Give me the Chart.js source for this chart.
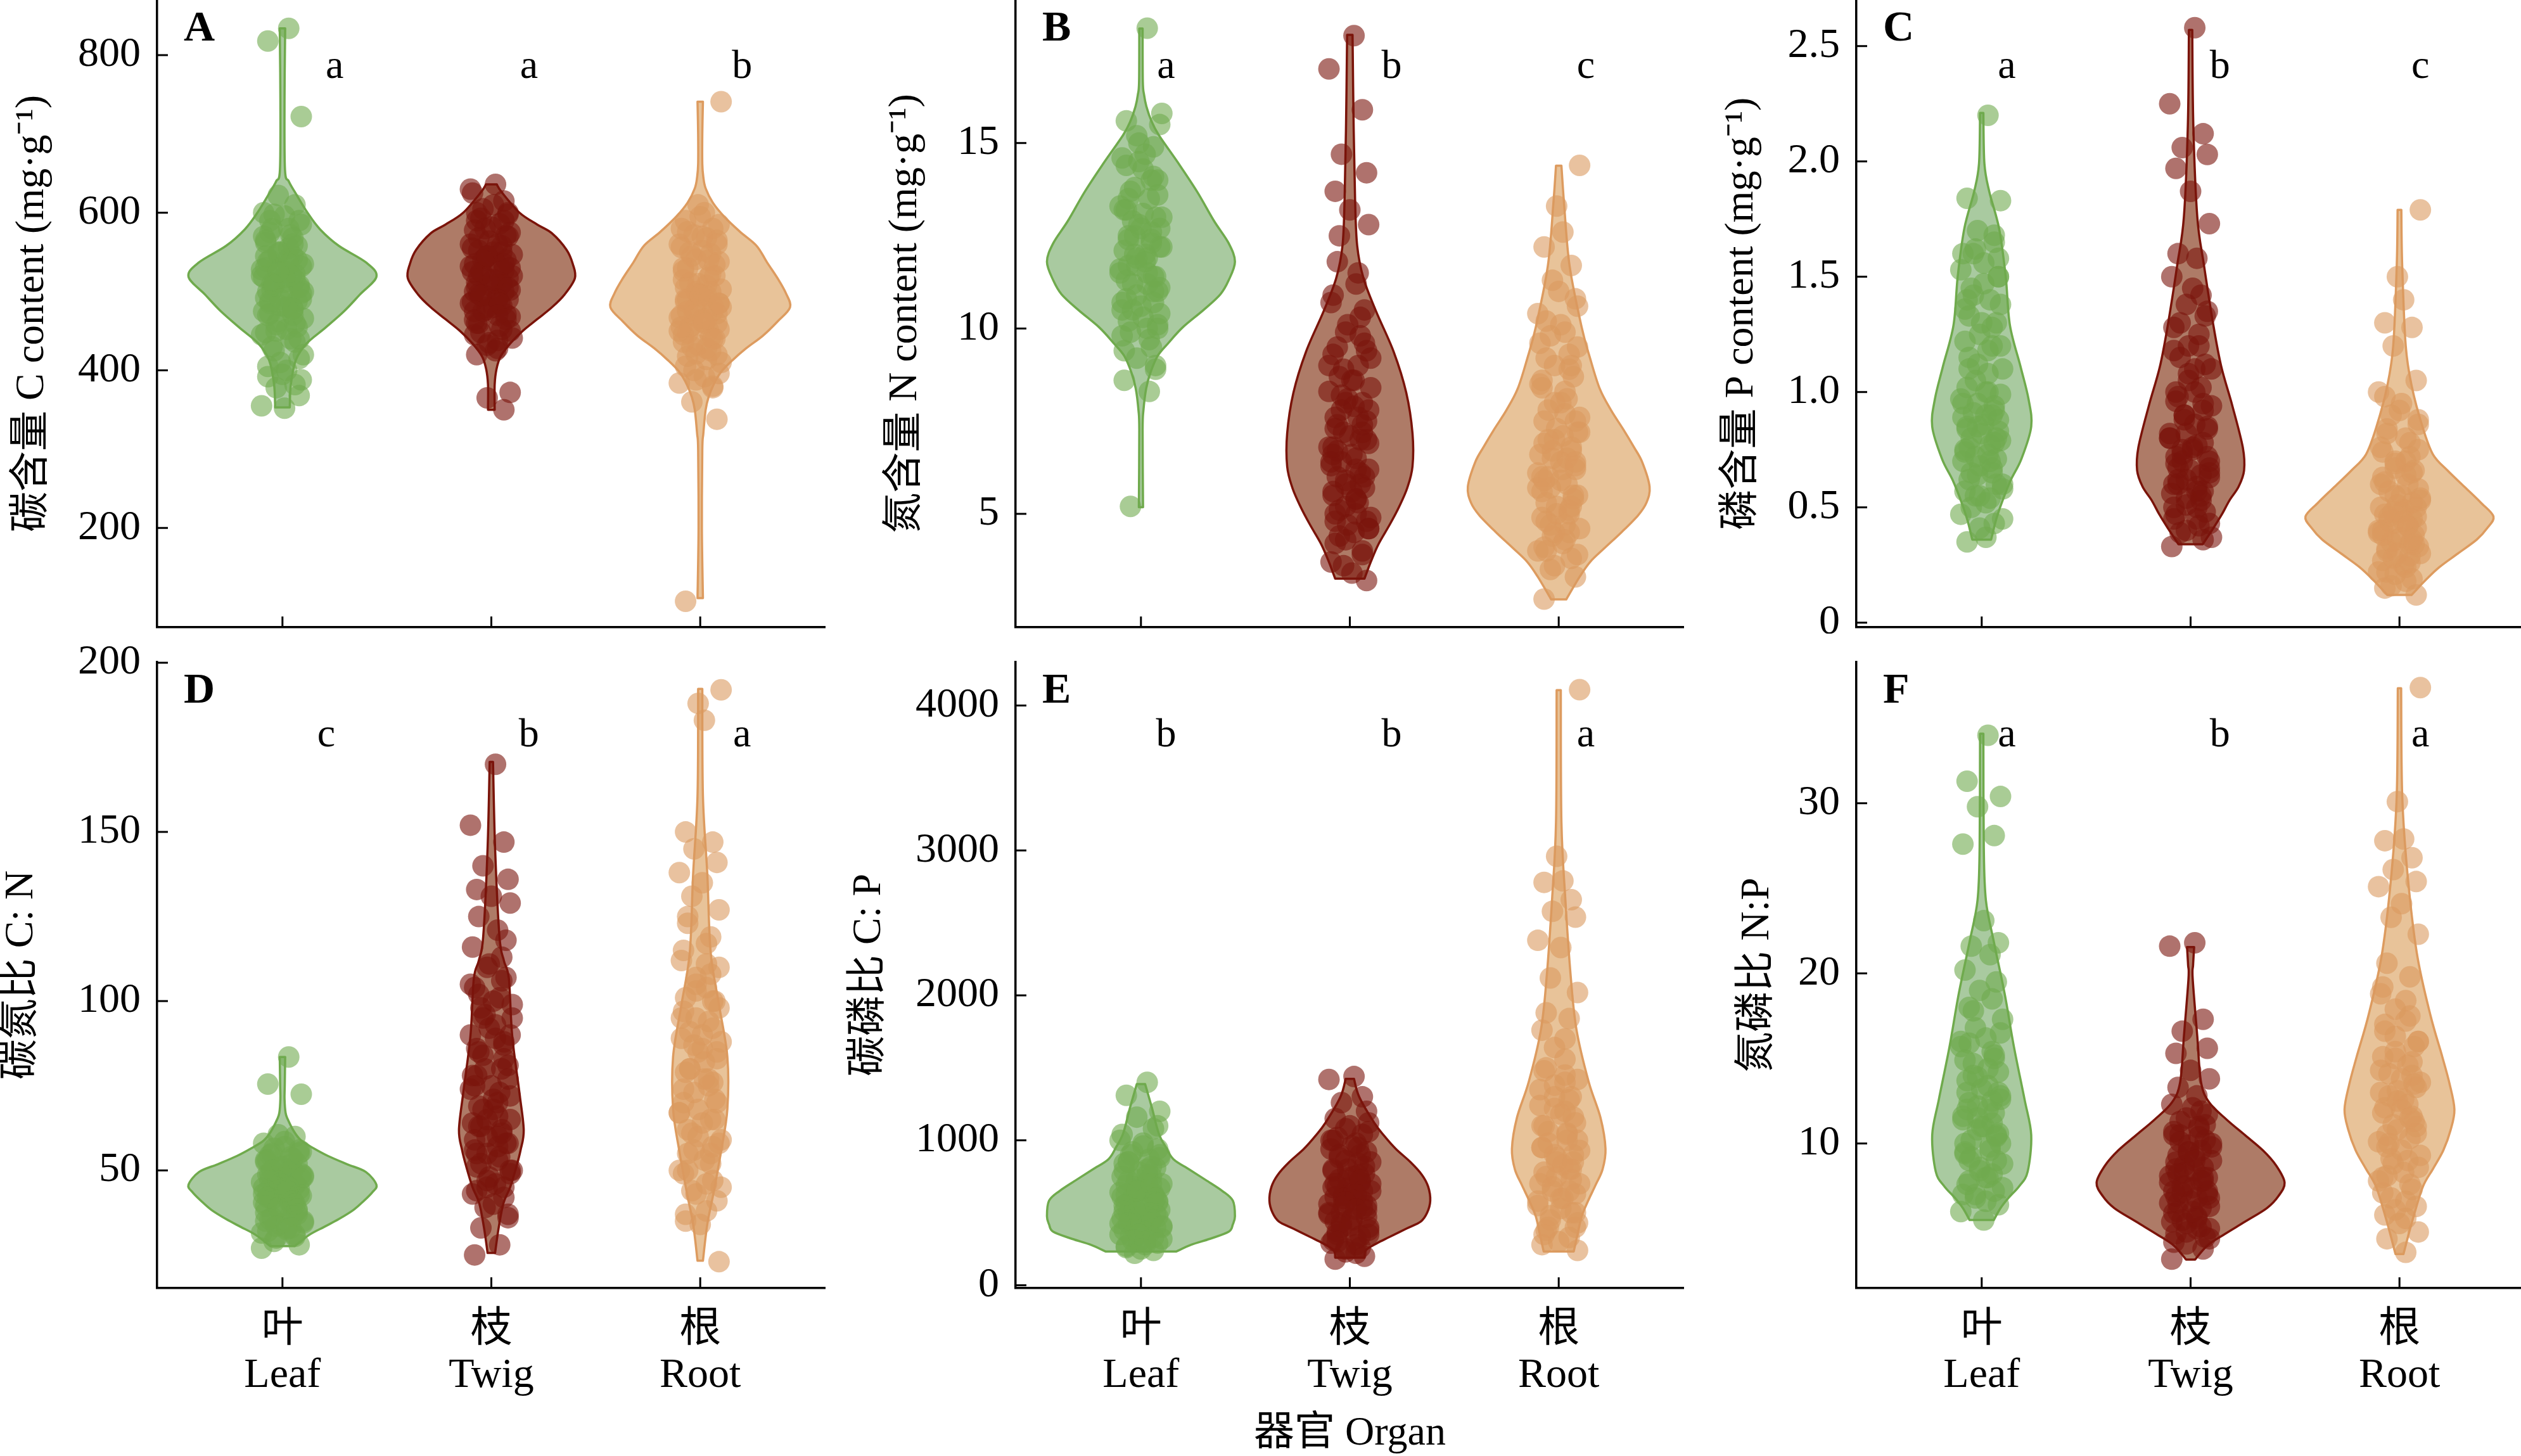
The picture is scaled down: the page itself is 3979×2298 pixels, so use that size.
<!DOCTYPE html>
<html>
<head>
<meta charset="utf-8">
<title>Organ stoichiometry violins</title>
<script src="https://cdn.jsdelivr.net/npm/chart.js@4.4.1/dist/chart.umd.min.js"></script>
<style>
  html, body { margin: 0; padding: 0; background: #ffffff; overflow: hidden; }
  body { position: relative; width: 3979px; height: 2298px; }
  canvas { position: absolute; }
</style>
</head>
<body>
<script>
// ---- data ----
const ORGANS_ZH = ['叶', '枝', '根'];
const ORGANS_EN = ['Leaf', 'Twig', 'Root'];
const CAT_POS = [1, 2, 3];

// hand-typed jitter offsets (category units)
const JITTER = [0.03, -0.07, 0.09, -0.02, 0.06, -0.09, 0.01, 0.08, -0.05, 0.04,
  -0.08, 0.07, -0.01, 0.05, -0.06, 0.10, -0.03, 0.02, -0.10, 0.06,
  -0.04, 0.08, -0.07, 0.00, 0.09, -0.06, 0.03, -0.09, 0.05, -0.02,
  0.07, -0.08, 0.04, -0.05, 0.10, -0.01, 0.02, -0.07, 0.06, -0.03,
  0.08, -0.10, 0.01, -0.04, 0.09, -0.06, 0.05, -0.08, 0.03, -0.02];

// A: carbon content
const A_RANGE = [74, 870];
const A_TICKS = [200, 400, 600, 800];
const A_TICK_LABELS = ['200', '400', '600', '800'];
const A_SIG = ['a', 'a', 'b'];
const A_LEAF = [834, 818, 722, 622, 610, 600, 596, 590, 580, 572, 565, 558, 550, 545, 540, 535, 530, 525, 520, 515, 510, 505, 500, 495, 490, 485, 480, 475, 470, 462, 455, 448, 440, 430, 420, 410, 400, 392, 382, 378, 368, 355, 352,
  598, 585, 575, 568, 562, 555, 548, 542, 538, 532, 528, 522, 518, 512, 508, 502, 498, 492, 488, 482, 478, 472, 466, 458, 452, 445, 436, 425, 415, 405, 395, 388,
  590, 580, 570, 560, 550, 540, 530, 520, 510, 500, 490, 480, 470, 460, 450, 440, 528, 518, 508, 498, 488, 478, 545, 535, 525];
const A_TWIG = [636, 630, 615, 605, 598, 590, 582, 575, 568, 560, 555, 550, 545, 540, 535, 530, 525, 520, 515, 510, 505, 500, 495, 490, 485, 480, 475, 468, 460, 452, 445, 438, 432, 428, 420, 372, 365, 350,
  625, 610, 600, 593, 586, 578, 571, 564, 558, 552, 547, 542, 537, 532, 527, 522, 517, 512, 507, 502, 497, 492, 487, 482, 477, 471, 464, 456, 448, 441, 435, 425,
  600, 590, 580, 570, 560, 550, 540, 530, 520, 510, 500, 490, 480, 470, 460, 450, 545, 535, 525, 515, 505, 495, 485, 475, 465];
const A_ROOT = [741, 610, 600, 590, 580, 572, 565, 560, 552, 545, 538, 530, 522, 515, 508, 500, 495, 490, 485, 480, 475, 470, 465, 460, 455, 450, 445, 440, 432, 425, 418, 410, 400, 392, 384, 378, 360, 338, 107,
  595, 585, 576, 568, 556, 548, 541, 534, 526, 518, 511, 503, 497, 492, 487, 482, 477, 472, 467, 462, 457, 452, 447, 442, 436, 428, 421, 414, 405, 396, 388, 380,
  580, 570, 560, 550, 540, 530, 520, 510, 500, 490, 480, 470, 460, 450, 440, 430, 420, 505, 495, 485, 475, 465, 455];
const A_LEAF_VIOLIN = [[834, 0.013], [745, 0.01], [655, 0.012], [640, 0.03], [626, 0.06], [600, 0.12], [579, 0.18], [558, 0.27], [537, 0.40], [519, 0.45], [496, 0.37], [475, 0.295], [454, 0.205], [434, 0.115], [413, 0.064], [382, 0.04], [353, 0.035]];
const A_TWIG_VIOLIN = [[636, 0.026], [626, 0.05], [600, 0.135], [585, 0.22], [574, 0.29], [553, 0.36], [535, 0.39], [517, 0.40], [496, 0.35], [480, 0.29], [465, 0.22], [450, 0.15], [434, 0.09], [418, 0.045], [402, 0.025], [382, 0.016], [350, 0.016]];
const A_ROOT_VIOLIN = [[741, 0.013], [700, 0.01], [662, 0.01], [645, 0.015], [631, 0.026], [613, 0.06], [595, 0.115], [576, 0.19], [558, 0.27], [537, 0.32], [517, 0.37], [498, 0.41], [480, 0.43], [462, 0.37], [444, 0.30], [428, 0.22], [413, 0.155], [398, 0.10], [382, 0.064], [366, 0.04], [350, 0.026], [320, 0.015], [299, 0.01], [200, 0.008], [111, 0.013]];

// B: nitrogen content
const B_RANGE = [1.94, 18.86];
const B_TICKS = [5, 10, 15];
const B_TICK_LABELS = ['5', '10', '15'];
const B_SIG = ['a', 'b', 'c'];
const B_LEAF = [18.1, 15.6, 15.5, 15.2, 14.9, 14.6, 14.3, 14.0, 13.7, 13.5, 13.2, 13.0, 12.8, 12.6, 12.4, 12.2, 12.0, 11.8, 11.6, 11.4, 11.2, 11.0, 10.8, 10.6, 10.4, 10.2, 10.0, 9.8, 9.5, 9.2, 8.9, 8.6, 8.3, 5.2,
  15.8, 15.0, 14.7, 14.4, 14.1, 13.8, 13.6, 13.3, 13.1, 12.9, 12.7, 12.5, 12.3, 12.1, 11.9, 11.7, 11.5, 11.3, 11.1, 10.9, 10.7, 10.5, 10.3, 10.1, 9.9, 9.7, 9.4, 9.0,
  14.5, 14.0, 13.5, 13.0, 12.5, 12.0, 11.5, 11.0, 10.5, 10.0, 13.2, 12.7, 12.2, 11.7, 11.2, 10.7, 12.4, 11.9, 11.4];
const B_TWIG = [17.9, 17.0, 15.9, 14.7, 14.2, 13.7, 13.2, 12.8, 11.8, 11.2, 10.7, 10.3, 9.9, 9.6, 9.3, 9.0, 8.7, 8.4, 8.1, 7.9, 7.6, 7.4, 7.2, 7.0, 6.8, 6.6, 6.4, 6.2, 6.0, 5.8, 5.6, 5.4, 5.2, 5.0, 4.8, 4.6, 4.3, 4.0, 3.7, 3.4, 3.2,
  12.5, 11.5, 10.9, 10.5, 10.1, 9.8, 9.5, 9.2, 8.9, 8.6, 8.3, 8.0, 7.8, 7.5, 7.3, 7.1, 6.9, 6.7, 6.5, 6.3, 6.1, 5.9, 5.7, 5.5, 5.3, 5.1, 4.9, 4.7, 4.5, 4.2, 3.9, 3.6,
  9.4, 9.0, 8.6, 8.2, 7.8, 7.4, 7.0, 6.6, 6.2, 5.8, 5.4, 5.0, 4.6, 8.0, 7.2, 6.4, 5.6, 4.8, 4.4, 7.6, 6.8, 6.0];
const B_ROOT = [14.4, 13.3, 12.6, 12.2, 11.7, 11.3, 10.8, 10.4, 10.1, 9.8, 9.5, 9.2, 8.9, 8.6, 8.3, 8.0, 7.7, 7.5, 7.2, 7.0, 6.8, 6.6, 6.4, 6.2, 6.0, 5.8, 5.6, 5.4, 5.2, 5.0, 4.8, 4.6, 4.4, 4.2, 4.0, 3.8, 3.5, 3.3, 2.7,
  11.0, 10.6, 10.2, 9.9, 9.6, 9.3, 9.0, 8.7, 8.4, 8.1, 7.8, 7.6, 7.3, 7.1, 6.9, 6.7, 6.5, 6.3, 6.1, 5.9, 5.7, 5.5, 5.3, 5.1, 4.9, 4.7, 4.5, 4.3, 4.1, 3.9, 3.6,
  9.0, 8.5, 8.0, 7.5, 7.0, 6.5, 6.0, 5.5, 5.0, 4.5, 4.0, 7.2, 6.7, 6.2, 5.7, 5.2, 4.7, 6.4, 5.9];
const B_LEAF_VIOLIN = [[18.09, 0.008], [16.66, 0.009], [16.3, 0.015], [15.99, 0.026], [15.6, 0.05], [15.22, 0.085], [14.45, 0.18], [13.68, 0.27], [12.9, 0.35], [12.3, 0.42], [11.8, 0.45], [11.3, 0.42], [10.92, 0.38], [10.5, 0.30], [10.03, 0.20], [9.6, 0.13], [9.26, 0.08], [8.8, 0.045], [8.38, 0.025], [7.8, 0.012], [7.27, 0.008], [5.18, 0.01]];
const B_TWIG_VIOLIN = [[17.92, 0.013], [15.55, 0.018], [13.5, 0.025], [12.24, 0.035], [11.36, 0.065], [10.47, 0.125], [9.37, 0.21], [8.27, 0.27], [7.17, 0.30], [6.28, 0.30], [5.7, 0.275], [5.18, 0.235], [4.7, 0.19], [4.18, 0.137], [3.7, 0.10], [3.25, 0.07]];
const B_ROOT_VIOLIN = [[14.39, 0.013], [13.34, 0.026], [11.69, 0.052], [10.03, 0.11], [9.2, 0.15], [8.38, 0.196], [7.8, 0.25], [7.27, 0.31], [6.8, 0.36], [6.39, 0.40], [5.73, 0.435], [5.3, 0.42], [4.96, 0.38], [4.5, 0.30], [4.08, 0.22], [3.7, 0.15], [3.3, 0.10], [2.69, 0.036]];

// C: phosphorus content
const C_RANGE = [-0.02, 2.70];
const C_TICKS = [0, 0.5, 1.0, 1.5, 2.0, 2.5];
const C_TICK_LABELS = ['0', '0.5', '1.0', '1.5', '2.0', '2.5'];
const C_SIG = ['a', 'b', 'c'];
const C_LEAF = [2.2, 1.84, 1.83, 1.7, 1.65, 1.6, 1.56, 1.5, 1.45, 1.4, 1.36, 1.3, 1.25, 1.2, 1.15, 1.1, 1.05, 1.0, 0.97, 0.94, 0.91, 0.88, 0.85, 0.82, 0.79, 0.76, 0.73, 0.7, 0.67, 0.64, 0.6, 0.57, 0.54, 0.5, 0.45, 0.41, 0.37, 0.35,
  1.68, 1.62, 1.58, 1.53, 1.47, 1.42, 1.38, 1.33, 1.28, 1.22, 1.18, 1.12, 1.08, 1.02, 0.99, 0.95, 0.92, 0.89, 0.86, 0.83, 0.8, 0.77, 0.74, 0.71, 0.68, 0.65, 0.62, 0.58, 0.55, 0.52, 0.47, 0.43,
  1.6, 1.5, 1.4, 1.3, 1.2, 1.1, 1.0, 0.95, 0.9, 0.85, 0.8, 0.75, 0.7, 0.65, 0.6, 0.55, 0.9, 0.84, 0.78, 0.72];
const C_TWIG = [2.58, 2.25, 2.12, 2.06, 2.03, 1.97, 1.87, 1.73, 1.6, 1.58, 1.5, 1.42, 1.38, 1.33, 1.28, 1.2, 1.15, 1.1, 1.05, 1.0, 0.96, 0.92, 0.88, 0.84, 0.8, 0.76, 0.73, 0.7, 0.67, 0.64, 0.6, 0.57, 0.54, 0.5, 0.47, 0.43, 0.4, 0.36, 0.33,
  1.45, 1.35, 1.3, 1.25, 1.18, 1.12, 1.08, 1.02, 0.98, 0.94, 0.9, 0.86, 0.82, 0.78, 0.75, 0.72, 0.69, 0.66, 0.63, 0.62, 0.59, 0.56, 0.53, 0.51, 0.48, 0.45, 0.42, 0.39, 0.37,
  1.2, 1.1, 1.0, 0.95, 0.9, 0.85, 0.8, 0.75, 0.7, 0.65, 0.6, 0.55, 0.5, 0.45, 0.82, 0.77, 0.72, 0.67, 0.62, 0.57];
const C_ROOT = [1.79, 1.5, 1.4, 1.3, 1.28, 1.2, 1.05, 1.0, 0.95, 0.9, 0.86, 0.82, 0.78, 0.74, 0.7, 0.67, 0.64, 0.61, 0.58, 0.55, 0.52, 0.5, 0.48, 0.46, 0.44, 0.42, 0.4, 0.38, 0.36, 0.34, 0.32, 0.3, 0.28, 0.25, 0.22, 0.19, 0.16, 0.12,
  0.98, 0.92, 0.88, 0.84, 0.8, 0.76, 0.72, 0.69, 0.66, 0.63, 0.6, 0.57, 0.54, 0.51, 0.49, 0.47, 0.45, 0.43, 0.41, 0.39, 0.37, 0.35, 0.33, 0.31, 0.29, 0.27, 0.24, 0.21, 0.18, 0.15,
  0.75, 0.7, 0.65, 0.6, 0.55, 0.5, 0.46, 0.42, 0.38, 0.34, 0.3, 0.26, 0.22, 0.53, 0.48, 0.44, 0.4, 0.36];
const C_LEAF_VIOLIN = [[2.21, 0.008], [1.99, 0.013], [1.87, 0.036], [1.71, 0.083], [1.5, 0.115], [1.29, 0.135], [1.11, 0.186], [0.97, 0.224], [0.85, 0.237], [0.71, 0.19], [0.62, 0.14], [0.53, 0.10], [0.45, 0.07], [0.36, 0.045]];
const C_TWIG_VIOLIN = [[2.57, 0.008], [2.16, 0.013], [1.76, 0.032], [1.55, 0.064], [1.29, 0.109], [1.11, 0.147], [0.94, 0.20], [0.76, 0.25], [0.66, 0.256], [0.59, 0.23], [0.53, 0.186], [0.47, 0.15], [0.41, 0.109], [0.34, 0.058]];
const C_ROOT_VIOLIN = [[1.79, 0.009], [1.55, 0.013], [1.2, 0.03], [1.02, 0.06], [0.85, 0.11], [0.73, 0.16], [0.66, 0.23], [0.59, 0.31], [0.52, 0.39], [0.46, 0.45], [0.41, 0.42], [0.36, 0.37], [0.3, 0.28], [0.24, 0.19], [0.18, 0.12], [0.12, 0.058]];

// D: C:N ratio
const D_RANGE = [15.2, 200.2];
const D_TICKS = [50, 100, 150, 200];
const D_TICK_LABELS = ['50', '100', '150', '200'];
const D_SIG = ['c', 'b', 'a'];
const D_LEAF = [83.5, 75.5, 72.5, 60.5, 60, 58, 57, 56, 55, 54, 53, 52, 51, 50, 49, 48.5, 48, 47, 46.5, 46, 45, 44.5, 44, 43, 42.5, 42, 41, 40.5, 40, 39, 38, 37.5, 37, 36, 35, 34, 33, 32, 31, 30, 28, 27,
  58.5, 56.5, 55.5, 54.5, 53.5, 52.5, 51.5, 50.5, 49.5, 48.8, 47.5, 46.8, 45.5, 44.8, 43.5, 42.8, 41.5, 40.8, 39.5, 38.5, 37.8, 36.5, 35.5, 34.5, 33.5, 32.5, 31.5, 30.5, 29,
  55, 53, 51, 49, 47, 45, 43, 41, 39, 37, 35, 33, 50, 48, 46, 44, 42, 40];
const D_TWIG = [170, 152, 147, 140, 136, 133, 131, 129, 125, 121, 116, 113, 110, 107, 104, 101, 98, 95, 92, 89, 86, 83, 80, 77, 74, 71, 68, 65, 63, 61, 59, 57, 55, 53, 51, 49, 47, 45, 43, 40, 37, 33, 28, 25,
  118, 111, 106, 102, 99, 96, 93, 90, 87, 84, 81, 78, 75, 72, 69, 66, 64, 62, 60, 58, 56, 54, 52, 50, 48, 46, 44, 42, 39, 36,
  105, 100, 95, 90, 85, 80, 75, 70, 65, 60, 55, 50, 45, 88, 78, 68, 58, 63, 73];
const D_ROOT = [192, 188, 183, 150, 147, 145, 141, 138, 135, 131, 127, 123, 119, 115, 111, 107, 104, 101, 98, 95, 92, 89, 86, 83, 80, 77, 74, 71, 68, 65, 62, 59, 56, 53, 50, 47, 44, 41, 37, 34, 23,
  125, 117, 112, 108, 103, 100, 97, 94, 91, 88, 85, 82, 79, 76, 73, 70, 67, 64, 61, 58, 55, 52, 49, 46, 43, 38, 35,
  110, 105, 100, 95, 90, 85, 80, 75, 70, 65, 60, 55, 50, 45, 87, 77, 67, 57];
const D_LEAF_VIOLIN = [[83.5, 0.013], [75, 0.011], [71.1, 0.01], [67, 0.015], [65.0, 0.026], [61.5, 0.055], [58.8, 0.09], [56.5, 0.15], [54.2, 0.22], [51.8, 0.31], [49.5, 0.40], [45.7, 0.45], [43.5, 0.43], [41.0, 0.39], [38.3, 0.34], [35.6, 0.27], [33.3, 0.20], [31.0, 0.13], [27.6, 0.058]];
const D_TWIG_VIOLIN = [[170.7, 0.008], [145.2, 0.018], [119.0, 0.039], [112, 0.06], [106.6, 0.084], [89.7, 0.10], [72.7, 0.135], [61.9, 0.155], [56, 0.14], [51.1, 0.12], [45, 0.09], [40.3, 0.058], [33, 0.035], [25.6, 0.018]];
const D_ROOT_VIOLIN = [[192.3, 0.01], [160.6, 0.013], [137.5, 0.034], [114.4, 0.05], [98.9, 0.09], [83.5, 0.13], [68.1, 0.13], [55.7, 0.10], [43.4, 0.064], [34.1, 0.034], [23.3, 0.013]];

// E: C:P ratio
const E_RANGE = [-20, 4300];
const E_TICKS = [0, 1000, 2000, 3000, 4000];
const E_TICK_LABELS = ['0', '1000', '2000', '3000', '4000'];
const E_SIG = ['b', 'b', 'a'];
const E_LEAF = [1400, 1310, 1200, 1160, 1080, 1040, 980, 940, 900, 870, 840, 810, 780, 750, 720, 700, 680, 660, 640, 620, 600, 580, 560, 540, 520, 500, 480, 460, 440, 420, 400, 380, 360, 340, 320, 300, 280, 260, 240, 220,
  1100, 1000, 960, 920, 880, 850, 820, 790, 760, 730, 710, 690, 670, 650, 630, 610, 590, 570, 550, 530, 510, 490, 470, 450, 430, 410, 390, 370, 350, 330, 310, 290, 270, 250,
  900, 850, 800, 750, 700, 650, 600, 550, 500, 450, 400, 350, 300, 625, 575, 525, 475, 425];
const E_TWIG = [1440, 1420, 1300, 1260, 1200, 1150, 1100, 1060, 1020, 980, 940, 900, 860, 820, 790, 760, 730, 700, 670, 640, 610, 580, 550, 520, 490, 460, 430, 400, 370, 340, 310, 280, 250, 220, 180,
  1120, 1080, 1040, 1000, 960, 920, 880, 840, 800, 770, 740, 710, 680, 650, 620, 590, 560, 530, 500, 470, 440, 410, 380, 350, 320, 290, 260, 230, 200,
  1000, 950, 900, 850, 800, 750, 700, 650, 600, 550, 500, 450, 400, 350, 300, 725, 675, 625, 575, 525];
const E_ROOT = [4110, 2960, 2790, 2780, 2660, 2580, 2540, 2380, 2330, 2120, 2020, 1880, 1840, 1760, 1700, 1640, 1560, 1480, 1420, 1380, 1300, 1240, 1180, 1120, 1060, 1000, 950, 900, 850, 800, 750, 700, 650, 600, 550, 500, 450, 400, 350, 300, 240,
  1500, 1450, 1350, 1280, 1220, 1160, 1100, 1040, 980, 930, 880, 830, 780, 730, 680, 630, 580, 530, 480, 430, 380, 330, 280,
  1400, 1300, 1200, 1100, 1000, 900, 800, 700, 600, 500, 400, 1050, 950, 850, 750, 650];
const E_LEAF_VIOLIN = [[1388, 0.02], [1227, 0.052], [1048, 0.085], [950, 0.12], [869, 0.156], [800, 0.23], [726, 0.31], [650, 0.39], [583, 0.44], [476, 0.45], [420, 0.44], [369, 0.42], [320, 0.33], [279, 0.24], [233, 0.17]];
const E_TWIG_VIOLIN = [[1424, 0.02], [1299, 0.045], [1120, 0.117], [1030, 0.165], [941, 0.22], [850, 0.29], [762, 0.345], [680, 0.375], [583, 0.385], [500, 0.37], [440, 0.34], [390, 0.27], [333, 0.19], [290, 0.13], [243, 0.078], [190, 0.07]];
const E_ROOT_VIOLIN = [[4107, 0.01], [3195, 0.013], [2658, 0.032], [2122, 0.058], [1764, 0.085], [1406, 0.143], [1156, 0.20], [941, 0.224], [800, 0.21], [690, 0.176], [580, 0.14], [476, 0.11], [350, 0.09], [233, 0.072]];

// F: N:P ratio
const F_RANGE = [1.5, 38.3];
const F_TICKS = [10, 20, 30];
const F_TICK_LABELS = ['10', '20', '30'];
const F_SIG = ['a', 'b', 'a'];
const F_LEAF = [34.0, 31.3, 30.4, 29.8, 28.1, 27.6, 23.1, 21.8, 21.6, 21.1, 20.2, 19.5, 19.0, 18.5, 18.0, 17.3, 16.8, 16.2, 15.7, 15.2, 14.7, 14.2, 13.7, 13.2, 12.8, 12.4, 12.0, 11.6, 11.2, 10.8, 10.4, 10.0, 9.6, 9.2, 8.8, 8.4, 8.0, 7.6, 7.2, 6.8, 6.4, 6.0, 5.5,
  17.8, 16.5, 15.9, 15.4, 14.9, 14.4, 13.9, 13.4, 13.0, 12.6, 12.2, 11.8, 11.4, 11.0, 10.6, 10.2, 9.8, 9.4, 9.0, 8.6, 8.2, 7.8, 7.4, 7.0, 6.6,
  16, 15, 14, 13, 12, 11, 10, 9, 8, 7, 12.5, 11.5, 10.5, 9.5];
const F_TWIG = [21.8, 21.6, 17.3, 16.6, 15.6, 15.3, 14.3, 13.8, 13.3, 12.8, 12.3, 11.9, 11.5, 11.1, 10.7, 10.4, 10.1, 9.8, 9.5, 9.2, 8.9, 8.6, 8.3, 8.0, 7.7, 7.4, 7.1, 6.8, 6.5, 6.2, 5.9, 5.6, 5.3, 5.0, 4.7, 4.4, 4.1, 3.8, 3.2,
  12.1, 11.7, 11.3, 10.9, 10.5, 10.2, 9.9, 9.6, 9.3, 9.0, 8.7, 8.4, 8.1, 7.8, 7.5, 7.2, 6.9, 6.6, 6.3, 6.0, 5.7, 5.4, 5.1, 4.8, 4.5, 4.2,
  11, 10.5, 10, 9.5, 9, 8.5, 8, 7.5, 7, 6.5, 6, 5.5, 5, 8.2, 7.8, 7.2, 6.8];
const F_ROOT = [36.8, 30.1, 27.9, 27.8, 26.8, 26.1, 25.4, 25.1, 24.1, 23.3, 22.3, 20.6, 19.8, 19.2, 18.4, 17.9, 17.2, 16.6, 16.0, 15.4, 14.8, 14.3, 13.8, 13.3, 12.8, 12.3, 11.8, 11.3, 10.8, 10.3, 9.8, 9.3, 8.8, 8.3, 7.8, 7.3, 6.8, 6.3, 5.8, 5.3, 4.8, 4.4, 3.6,
  18.8, 17.5, 16.3, 15.7, 15.1, 14.6, 14.1, 13.6, 13.1, 12.6, 12.1, 11.6, 11.1, 10.6, 10.1, 9.6, 9.1, 8.6, 8.1, 7.6, 7.1, 6.6, 6.1, 5.6,
  17, 16, 15, 14, 13, 12, 11, 10, 9, 8, 13.5, 12.5, 11.5, 10.5];
const F_LEAF_VIOLIN = [[34.09, 0.008], [27.4, 0.01], [24.3, 0.02], [21.86, 0.058], [18.8, 0.11], [15.7, 0.154], [12.6, 0.205], [10.5, 0.237], [8.35, 0.22], [7.5, 0.18], [6.8, 0.128], [6.2, 0.09], [5.5, 0.058]];
const F_TWIG_VIOLIN = [[21.55, 0.017], [20.5, 0.012], [19.7, 0.01], [16.3, 0.032], [13.6, 0.05], [12.4, 0.09], [11.4, 0.173], [10.5, 0.26], [9.6, 0.346], [8.7, 0.41], [7.7, 0.45], [6.9, 0.42], [6.2, 0.365], [5.4, 0.26], [4.65, 0.16], [4.0, 0.08], [3.18, 0.022]];
const F_ROOT_VIOLIN = [[36.76, 0.008], [30.5, 0.013], [25.9, 0.038], [21.2, 0.083], [17.6, 0.147], [15.1, 0.205], [13.5, 0.24], [12.0, 0.263], [10.8, 0.245], [9.6, 0.21], [8.5, 0.16], [7.4, 0.11], [5.3, 0.058], [3.5, 0.019]];

// ---- styles ----
const FONT = "'Liberation Serif', 'Times New Roman', 'Noto Sans CJK SC', serif";
const LINE_COLORS = ['#6faa4c', '#7a1309', '#dd9b5f'];
const FILL_COLORS = ['#a9caa0', '#ae7b67', '#e8c399'];
const POINT_COLORS = ['rgba(112,170,78,0.6)', 'rgba(122,20,12,0.6)', 'rgba(218,154,95,0.6)'];

Chart.defaults.font.family = FONT;
Chart.defaults.color = '#000000';

// panel layout (pixel geometry only)
const PANELS = [
    { id: 'A', left: 0, top: 0, w: 1303, h: 1000, padTop: 0, axisW: 248, axisH: 10, titlePad: 19, row: 0,
      title: '碳含量 C content (mg·g⁻¹)', range: A_RANGE, ticks: A_TICKS, tickLabels: A_TICK_LABELS, sig: A_SIG, sigDx: [0.25, 0.18, 0.2],
      groups: [A_LEAF, A_TWIG, A_ROOT], violins: [A_LEAF_VIOLIN, A_TWIG_VIOLIN, A_ROOT_VIOLIN] },
    { id: 'B', left: 1320, top: 0, w: 1338, h: 1000, padTop: 0, axisW: 283, axisH: 10, titlePad: 77, row: 0,
      title: '氮含量 N content (mg·g⁻¹)', range: B_RANGE, ticks: B_TICKS, tickLabels: B_TICK_LABELS, sig: B_SIG, sigDx: [0.12, 0.2, 0.13],
      groups: [B_LEAF, B_TWIG, B_ROOT], violins: [B_LEAF_VIOLIN, B_TWIG_VIOLIN, B_ROOT_VIOLIN] },
    { id: 'C', left: 2660, top: 0, w: 1325, h: 1000, padTop: 0, axisW: 270, axisH: 10, titlePad: 57, row: 0,
      title: '磷含量 P content (mg·g⁻¹)', range: C_RANGE, ticks: C_TICKS, tickLabels: C_TICK_LABELS, sig: C_SIG, sigDx: [0.12, 0.14, 0.1],
      groups: [C_LEAF, C_TWIG, C_ROOT], violins: [C_LEAF_VIOLIN, C_TWIG_VIOLIN, C_ROOT_VIOLIN] },
    { id: 'D', left: 0, top: 1000, w: 1303, h: 1298, padTop: 45, axisW: 248, axisH: 265, titlePad: 2, row: 1,
      title: '碳氮比 C: N', range: D_RANGE, ticks: D_TICKS, tickLabels: D_TICK_LABELS, sig: D_SIG, sigDx: [0.21, 0.18, 0.2],
      groups: [D_LEAF, D_TWIG, D_ROOT], violins: [D_LEAF_VIOLIN, D_TWIG_VIOLIN, D_ROOT_VIOLIN] },
    { id: 'E', left: 1320, top: 1000, w: 1338, h: 1298, padTop: 45, axisW: 283, axisH: 265, titlePad: 20, row: 1,
      title: '碳磷比 C: P', xTitle: '器官 Organ', range: E_RANGE, ticks: E_TICKS, tickLabels: E_TICK_LABELS, sig: E_SIG, sigDx: [0.12, 0.2, 0.13],
      groups: [E_LEAF, E_TWIG, E_ROOT], violins: [E_LEAF_VIOLIN, E_TWIG_VIOLIN, E_ROOT_VIOLIN] },
    { id: 'F', left: 2660, top: 1000, w: 1325, h: 1298, padTop: 45, axisW: 270, axisH: 265, titlePad: 82, row: 1,
      title: '氮磷比 N:P', range: F_RANGE, ticks: F_TICKS, tickLabels: F_TICK_LABELS, sig: F_SIG, sigDx: [0.12, 0.14, 0.1],
      groups: [F_LEAF, F_TWIG, F_ROOT], violins: [F_LEAF_VIOLIN, F_TWIG_VIOLIN, F_ROOT_VIOLIN] }
];

// Catmull-Rom through pts, current point must be pts[0]
function smoothTo(ctx, pts) {
    for (let i = 0; i < pts.length - 1; i++) {
        const p0 = pts[Math.max(i - 1, 0)];
        const p1 = pts[i];
        const p2 = pts[i + 1];
        const p3 = pts[Math.min(i + 2, pts.length - 1)];
        ctx.bezierCurveTo(
            p1[0] + (p2[0] - p0[0]) / 6, p1[1] + (p2[1] - p0[1]) / 6,
            p2[0] - (p3[0] - p1[0]) / 6, p2[1] - (p3[1] - p1[1]) / 6,
            p2[0], p2[1]);
    }
}

function violinPlugin(panel) {
    return {
        id: 'violins',
        beforeDatasetsDraw(chart) {
            const { ctx, chartArea } = chart;
            const xs = chart.scales.x;
            const ys = chart.scales.y;
            ctx.save();
            ctx.beginPath();
            ctx.rect(chartArea.left, chartArea.top, chartArea.width, chartArea.height);
            ctx.clip();
            panel.violins.forEach((shape, g) => {
                const cx = CAT_POS[g];
                const right = shape.map(([v, w]) => [xs.getPixelForValue(cx + w), ys.getPixelForValue(v)]);
                const left = shape.map(([v, w]) => [xs.getPixelForValue(cx - w), ys.getPixelForValue(v)]).reverse();
                ctx.beginPath();
                ctx.moveTo(left[left.length - 1][0], left[left.length - 1][1]);
                ctx.lineTo(right[0][0], right[0][1]);
                smoothTo(ctx, right);
                ctx.lineTo(left[0][0], left[0][1]);
                smoothTo(ctx, left);
                ctx.closePath();
                ctx.fillStyle = FILL_COLORS[g];
                ctx.fill();
                ctx.lineWidth = 3.5;
                ctx.lineJoin = 'round';
                ctx.strokeStyle = LINE_COLORS[g];
                ctx.stroke();
            });
            ctx.restore();
        }
    };
}

function annotationPlugin(panel) {
    return {
        id: 'annotations',
        afterDraw(chart) {
            const { ctx, chartArea } = chart;
            const xs = chart.scales.x;
            const ys = chart.scales.y;
            ctx.save();
            // inward tick marks
            ctx.strokeStyle = '#000000';
            ctx.lineWidth = 3;
            ctx.beginPath();
            ys.ticks.forEach(t => {
                const py = ys.getPixelForValue(t.value);
                ctx.moveTo(chartArea.left, py);
                ctx.lineTo(chartArea.left + 17, py);
            });
            CAT_POS.forEach(c => {
                const px = xs.getPixelForValue(c);
                ctx.moveTo(px, chartArea.bottom);
                ctx.lineTo(px, chartArea.bottom - 17);
            });
            ctx.stroke();

            // panel letter
            ctx.fillStyle = '#000000';
            ctx.textAlign = 'left';
            ctx.textBaseline = 'alphabetic';
            ctx.font = 'bold 68px ' + FONT;
            ctx.fillText(panel.id, chartArea.left + 42, chartArea.top + 64);

            // significance letters
            ctx.font = '64px ' + FONT;
            ctx.textAlign = 'center';
            const base = chartArea.top + (panel.row === 0 ? 123 : 133);
            panel.sig.forEach((s, g) => {
                ctx.fillText(s, xs.getPixelForValue(CAT_POS[g] + panel.sigDx[g]), base);
            });
            ctx.restore();
        }
    };
}

function renderPanel(panel) {
    const canvas = document.createElement('canvas');
    canvas.width = panel.w;
    canvas.height = panel.h;
    canvas.style.left = panel.left + 'px';
    canvas.style.top = panel.top + 'px';
    canvas.style.width = panel.w + 'px';
    canvas.style.height = panel.h + 'px';
    document.body.appendChild(canvas);

    const datasets = panel.groups.map((vals, g) => ({
        label: ORGANS_EN[g],
        data: vals.map((v, i) => ({ x: CAT_POS[g] + JITTER[(i + g * 17) % JITTER.length], y: v })),
        backgroundColor: POINT_COLORS[g],
        borderWidth: 0,
        pointRadius: 17,
        pointHoverRadius: 17
    }));

    const tickFont = { family: FONT, size: 66, lineHeight: 72 / 66 };
    const titleFont = { family: FONT, size: 64, lineHeight: 1 };

    new Chart(canvas, {
        type: 'scatter',
        data: { datasets: datasets },
        plugins: [violinPlugin(panel), annotationPlugin(panel)],
        options: {
            responsive: false,
            animation: false,
            devicePixelRatio: 1,
            layout: { autoPadding: false, padding: { top: panel.padTop, left: 0, right: 0, bottom: 0 } },
            scales: {
                x: {
                    type: 'linear',
                    min: 0.4,
                    max: 3.6,
                    afterBuildTicks: s => { s.ticks = CAT_POS.map(v => ({ value: v })); },
                    afterFit: s => { s.height = panel.axisH; s.paddingLeft = 0; s.paddingRight = 0; },
                    grid: { display: false, drawTicks: false },
                    border: { display: true, color: '#000000', width: 3.5 },
                    ticks: {
                        display: panel.row === 1,
                        autoSkip: false,
                        maxRotation: 0,
                        padding: 31,
                        font: tickFont,
                        color: '#000000',
                        callback: (value, index) => [ORGANS_ZH[index], ORGANS_EN[index]]
                    },
                    title: {
                        display: !!panel.xTitle,
                        text: panel.xTitle || '',
                        font: titleFont,
                        color: '#000000',
                        padding: { top: 0, bottom: 3 }
                    }
                },
                y: {
                    type: 'linear',
                    min: panel.range[0],
                    max: panel.range[1],
                    afterBuildTicks: s => { s.ticks = panel.ticks.map(v => ({ value: v })); },
                    afterFit: s => { s.width = panel.axisW; s.paddingTop = 0; s.paddingBottom = 0; },
                    grid: { display: false, drawTicks: false },
                    border: { display: true, color: '#000000', width: 3.5 },
                    ticks: {
                        padding: 26,
                        font: tickFont,
                        color: '#000000',
                        callback: (value, index) => panel.tickLabels[index]
                    },
                    title: {
                        display: true,
                        text: panel.title,
                        font: titleFont,
                        color: '#000000',
                        padding: { top: panel.titlePad, bottom: 0 }
                    }
                }
            },
            plugins: {
                legend: { display: false },
                tooltip: { enabled: false }
            }
        }
    });
}

PANELS.forEach(renderPanel);
</script>
</body>
</html>
